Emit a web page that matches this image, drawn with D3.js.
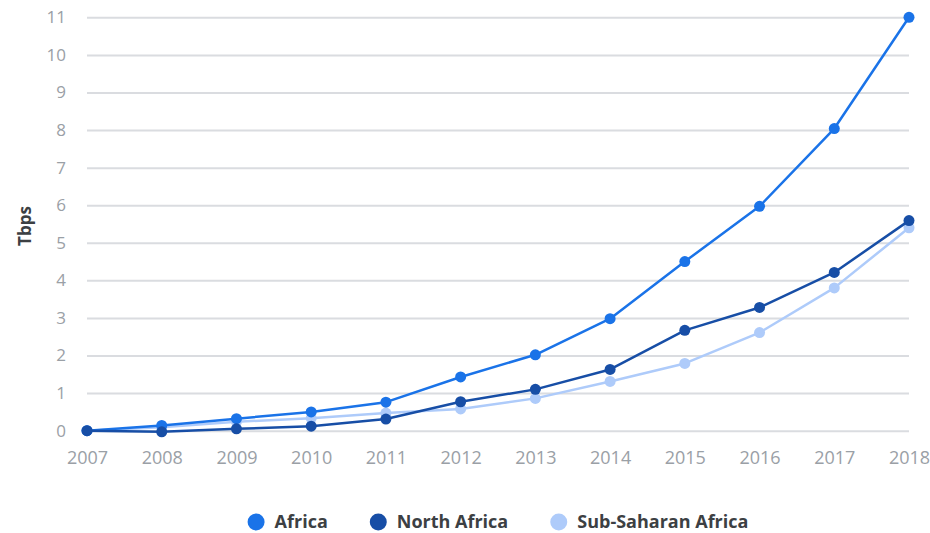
<!DOCTYPE html>
<html><head><meta charset="utf-8">
<script src="https://cdn.jsdelivr.net/npm/d3@7"></script>
<style>
html,body{margin:0;padding:0;background:#fff;}
svg{display:block;font-family:"Open Sans",Roboto,sans-serif;}
</style></head>
<body>
<svg id="chart" width="930" height="533"></svg>
<script>
const years = [2007,2008,2009,2010,2011,2012,2013,2014,2015,2016,2017,2018];
const yTicks = [0,1,2,3,4,5,6,7,8,9,10,11];
const seriesNames = ["Africa","North Africa","Sub-Saharan Africa"];
const seriesColors = ["#1a73e8","#174ea6","#aecbfa"];
const africa = [0,0.14,0.32,0.5,0.76,1.43,2.02,2.98,4.5,5.97,8.04,11.0];
const northAfrica = [0,-0.03,0.05,0.12,0.31,0.77,1.1,1.63,2.67,3.28,4.21,5.59];
const subSaharan = [0,0.09,0.24,0.33,0.47,0.58,0.86,1.31,1.79,2.61,3.8,5.4];
const seriesValues = [africa, northAfrica, subSaharan];

const FONT = '"Open Sans",Roboto,sans-serif';
const svg = d3.select("#chart");
const mLeft = 87, mRight = 909, mTop = 17.3, mBottom = 430.7;
const x = d3.scalePoint().domain(years).range([mLeft, mRight]);
const y = d3.scaleLinear().domain([0,11]).range([mBottom, mTop]);

// gridlines + y labels
const yAxis = d3.axisLeft(y).tickValues(yTicks).tickSize(-(mRight-mLeft)).tickPadding(21).tickFormat(d3.format("d"));
const gy = svg.append("g").attr("transform",`translate(${mLeft},0)`).call(yAxis);
gy.select(".domain").remove();
gy.selectAll(".tick line").attr("stroke","#dadce0").attr("stroke-width",2);
gy.selectAll(".tick text").attr("fill","#9aa0a6").attr("font-size",17).attr("font-family",FONT);

// x labels
const xAxis = d3.axisBottom(x).tickSize(0).tickPadding(21);
const gx = svg.append("g").attr("transform",`translate(0,${mBottom})`).call(xAxis);
gx.select(".domain").remove();
gx.selectAll(".tick text").attr("fill","#9aa0a6").attr("font-size",18).attr("font-family",FONT);

// y title
svg.append("text").attr("transform","translate(25,226) rotate(-90)")
  .attr("text-anchor","middle").attr("dy","0.35em").attr("font-size",17).attr("font-weight",700)
  .attr("font-family",FONT).attr("fill","#3c4043").text("Tbps");

const line = d3.line().x((d,i)=>x(years[i])).y(d=>y(d));
const order = [2,0,1];
order.forEach(k=>{
  const g = svg.append("g");
  g.append("path").datum(seriesValues[k]).attr("d",line).attr("fill","none")
    .attr("stroke",seriesColors[k]).attr("stroke-width",2.5).attr("stroke-linejoin","round");
  g.selectAll("circle").data(seriesValues[k]).join("circle")
    .attr("cx",(d,i)=>x(years[i])).attr("cy",d=>y(d)).attr("r",5.5).attr("fill",seriesColors[k]);
});

// legend (centered under plot)
const lg = svg.append("g").attr("transform","translate(0,522)");
const items = seriesNames.map((n,i)=>{
  const it = lg.append("g");
  it.append("circle").attr("cx",8.5).attr("cy",0).attr("r",8.5).attr("fill",seriesColors[i]);
  const t = it.append("text").attr("x",27).attr("y",0).attr("dy","0.35em")
    .attr("font-size",18).attr("font-weight",700).attr("font-family",FONT).attr("fill","#3c4043").text(n);
  return {g:it, w:27 + t.node().getComputedTextLength()};
});
const gap = 42;
const total = d3.sum(items, d=>d.w) + gap*(items.length-1);
let cx = (mLeft+mRight)/2 - total/2;
items.forEach(d=>{ d.g.attr("transform",`translate(${cx},0)`); cx += d.w + gap; });
</script>
</body></html>
